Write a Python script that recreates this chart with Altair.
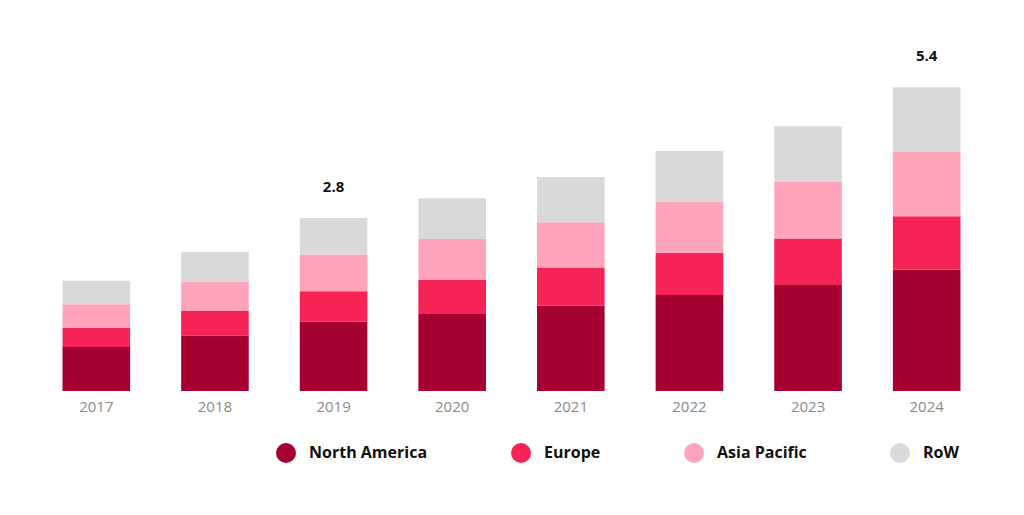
import altair as alt
import pandas as pd

years = ["2017", "2018", "2019", "2020", "2021", "2022", "2023", "2024"]
regions = ["North America", "Europe", "Asia Pacific", "RoW"]
north_america = [0.71, 0.89, 1.12, 1.24, 1.38, 1.55, 1.71, 1.96]
europe = [0.31, 0.40, 0.49, 0.55, 0.61, 0.68, 0.75, 0.86]
asia_pacific = [0.38, 0.47, 0.59, 0.66, 0.73, 0.82, 0.91, 1.04]
row = [0.38, 0.48, 0.59, 0.66, 0.73, 0.82, 0.90, 1.04]
label_years = ["2019", "2024"]
label_texts = ["2.8", "5.4"]
colors = ["#A60033", "#F52356", "#FFA4BA", "#D9D9D9"]

series = [north_america, europe, asia_pacific, row]
records = []
for ri, (reg, vals) in enumerate(zip(regions, series)):
    for y, v in zip(years, vals):
        records.append({"year": y, "region": reg, "value": v, "order": ri})
df = pd.DataFrame(records)

totals = df.groupby("year", as_index=False)["value"].sum()
lab = pd.DataFrame({"year": label_years, "label": label_texts}).merge(totals, on="year")

FONT = "Open Sans"

x_enc = alt.X("year:N", sort=years,
              scale=alt.Scale(paddingInner=0.43, paddingOuter=0.215),
              axis=alt.Axis(title=None, ticks=False, domain=False, labelAngle=0,
                            labelFont=FONT, labelFontSize=15, labelColor="#8a8a8a",
                            labelPadding=8, grid=False))

bars = alt.Chart(df).mark_bar().encode(
    x=x_enc,
    y=alt.Y("value:Q", stack="zero", scale=alt.Scale(domain=[0, 6]), axis=None),
    color=alt.Color("region:N", sort=regions,
                    scale=alt.Scale(domain=regions, range=colors),
                    legend=alt.Legend(title=None, orient="none", direction="horizontal",
                                      columns=4, legendX=239, legendY=424,
                                      symbolType="circle", symbolSize=400,
                                      symbolStrokeWidth=0, labelFont=FONT,
                                      labelFontSize=16, labelFontWeight="bold",
                                      labelColor="#111111", labelOffset=13,
                                      columnPadding=83, padding=0)),
    order=alt.Order("order:Q", sort="ascending"),
)

texts = alt.Chart(lab).mark_text(font=FONT, fontSize=15, fontWeight="bold",
                                  color="#111111", dy=-31, baseline="middle").encode(
    x=alt.X("year:N", sort=years),
    y=alt.Y("value:Q"),
    text="label:N",
)

chart = alt.layer(bars, texts).properties(
    width=949, height=372,
    padding={"left": 29, "top": 11, "right": 30, "bottom": 116},
    autosize=alt.AutoSizeParams(type="none"),
    background="white",
).configure_view(stroke=None)

chart.save("out.html", embed_options={"renderer": "svg", "actions": False})
